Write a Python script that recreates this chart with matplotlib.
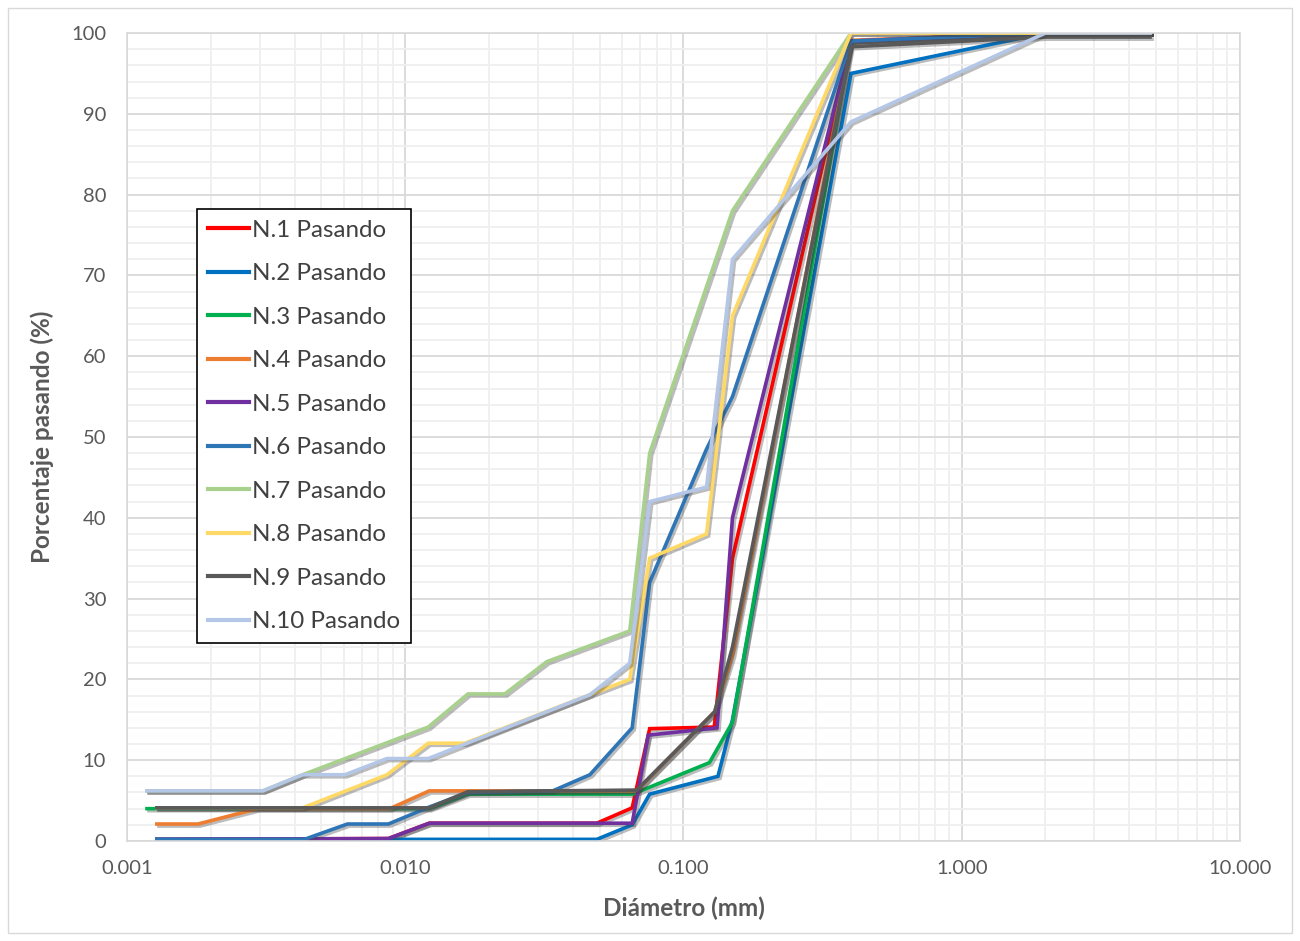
import matplotlib
matplotlib.use('Agg')
import matplotlib.pyplot as plt
import matplotlib.patheffects as pe
from matplotlib.ticker import FixedLocator, MultipleLocator, LogLocator, NullFormatter

plt.rcParams['font.family'] = ['Lato', 'DejaVu Sans']

# 数据
labels = ['N.1 Pasando', 'N.2 Pasando', 'N.3 Pasando', 'N.4 Pasando', 'N.5 Pasando',
          'N.6 Pasando', 'N.7 Pasando', 'N.8 Pasando', 'N.9 Pasando', 'N.10 Pasando']
colors = ['#FF0000', '#0070C0', '#00B050', '#ED7D31', '#7030A0',
          '#2E75B6', '#A9D18E', '#FFD966', '#595959', '#B4C7E7']

d1 = [0.00128, 0.0087, 0.0122, 0.0488, 0.0654, 0.0756, 0.129, 0.150, 0.40, 2.0, 4.75]
p1 = [0.2, 0.3, 2.2, 2.2, 4.1, 13.9, 14.1, 35, 99, 100, 100]

d2 = [0.00128, 0.0488, 0.0654, 0.0756, 0.133, 0.150, 0.40, 2.0, 4.75]
p2 = [0.2, 0.2, 2.0, 5.8, 8.0, 15, 95, 100, 100]

d3 = [0.00118, 0.0122, 0.0168, 0.0657, 0.124, 0.150, 0.40, 2.0, 4.75]
p3 = [4.0, 4.0, 5.8, 5.8, 9.7, 14.7, 99, 100, 100]

d4 = [0.00128, 0.0018, 0.00295, 0.0088, 0.0122, 0.0679, 0.1295, 0.150, 0.40, 2.0, 4.75]
p4 = [2.1, 2.1, 4.0, 4.0, 6.2, 6.2, 16, 23, 99.1, 100, 100]

d5 = [0.00128, 0.0087, 0.0122, 0.0654, 0.0747, 0.132, 0.150, 0.40, 2.0, 4.75]
p5 = [0.2, 0.3, 2.2, 2.2, 13.1, 14.0, 40, 99, 100, 100]

d6 = [0.00128, 0.00434, 0.0062, 0.0087, 0.0122, 0.0168, 0.0339, 0.0461, 0.0654, 0.0756,
      0.121, 0.150, 0.40, 2.0, 4.75]
p6 = [0.2, 0.2, 2.1, 2.1, 4.2, 6.0, 6.2, 8.2, 14, 32, 48.5, 55, 99, 100, 100]

d7 = [0.00118, 0.00308, 0.00428, 0.0121, 0.0168, 0.0228, 0.0323, 0.0641, 0.0756, 0.150,
      0.40, 2.0, 4.75]
p7 = [6.2, 6.2, 8.2, 14.1, 18.2, 18.2, 22.2, 26, 48, 78, 100, 100, 100]

d8 = [0.00128, 0.00428, 0.0086, 0.0121, 0.0164, 0.0461, 0.0641, 0.0756, 0.121, 0.150,
      0.40, 2.0, 4.75]
p8 = [4.1, 4.1, 8.2, 12.1, 12.1, 18.1, 20, 35, 38, 65, 100, 100, 100]

d9 = [0.00128, 0.0122, 0.0168, 0.0679, 0.1295, 0.150, 0.40, 2.0, 4.75]
p9 = [4.1, 4.1, 6.1, 6.3, 16, 24, 98.3, 99.5, 99.5]

d10 = [0.00118, 0.00308, 0.00428, 0.00607, 0.0086, 0.0121, 0.0461, 0.0641, 0.0756, 0.121,
       0.150, 0.40, 2.0, 4.75]
p10 = [6.2, 6.2, 8.2, 8.2, 10.2, 10.2, 18.1, 22, 42, 43.8, 72, 89, 100, 100]

diametros = [d1, d2, d3, d4, d5, d6, d7, d8, d9, d10]
pasando = [p1, p2, p3, p4, p5, p6, p7, p8, p9, p10]

xticks = [0.001, 0.01, 0.1, 1, 10]
xtick_labels = ['0.001', '0.010', '0.100', '1.000', '10.000']

fig = plt.figure(figsize=(13, 9.41), dpi=100)
ax = fig.add_axes([0.0977, 0.1063, 0.8561, 0.8586])

sombra = [pe.SimpleLineShadow(offset=(1.5, -1.5), alpha=0.35, shadow_color='#404040'), pe.Normal()]
for d, p, c, lab in zip(diametros, pasando, colors, labels):
    ax.plot(d, p, color=c, linewidth=2.6, label=lab, path_effects=sombra,
            solid_joinstyle='miter')

ax.set_xscale('log')
ax.set_xlim(0.001, 10)
ax.set_ylim(0, 100)
ax.xaxis.set_major_locator(FixedLocator(xticks))
ax.set_xticklabels(xtick_labels)
ax.xaxis.set_minor_locator(LogLocator(base=10, subs=range(2, 10)))
ax.xaxis.set_minor_formatter(NullFormatter())
ax.yaxis.set_major_locator(MultipleLocator(10))
ax.yaxis.set_minor_locator(MultipleLocator(2))

ax.grid(True, which='major', color='#D9D9D9', linewidth=1.3)
ax.grid(True, which='minor', color='#EFEFEF', linewidth=1.3)
ax.set_axisbelow(True)
for s in ax.spines.values():
    s.set_color('#D9D9D9')
    s.set_linewidth(1.2)

ax.tick_params(which='both', length=0, labelsize=14.5, labelcolor='#595959')
ax.tick_params(axis='y', pad=15)
ax.tick_params(axis='x', pad=14)

ax.set_xlabel('Diámetro (mm)', fontsize=17.5, fontweight='bold', color='#595959', labelpad=14)
ax.set_ylabel('Porcentaje pasando (%)', fontsize=17.5, fontweight='bold', color='#595959', labelpad=12)

leg = fig.legend(loc='upper left', bbox_to_anchor=(0.1515, 0.778), fontsize=17.4,
                 frameon=True, fancybox=False, handlelength=1.7, handletextpad=0.12,
                 labelspacing=0.93, borderpad=0.45, borderaxespad=0)
leg.get_frame().set_edgecolor('black')
leg.get_frame().set_linewidth(1.2)
leg.get_frame().set_alpha(1)
for t in leg.get_texts():
    t.set_color('#404040')
for h in leg.get_lines():
    h.set_linewidth(3)
    h.set_path_effects([])

# 外框
fig.patches.append(plt.Rectangle((0.006, 0.008), 0.988, 0.984, transform=fig.transFigure,
                                 fill=False, edgecolor='#D9D9D9', linewidth=1))

plt.savefig('out.png', dpi=100)
